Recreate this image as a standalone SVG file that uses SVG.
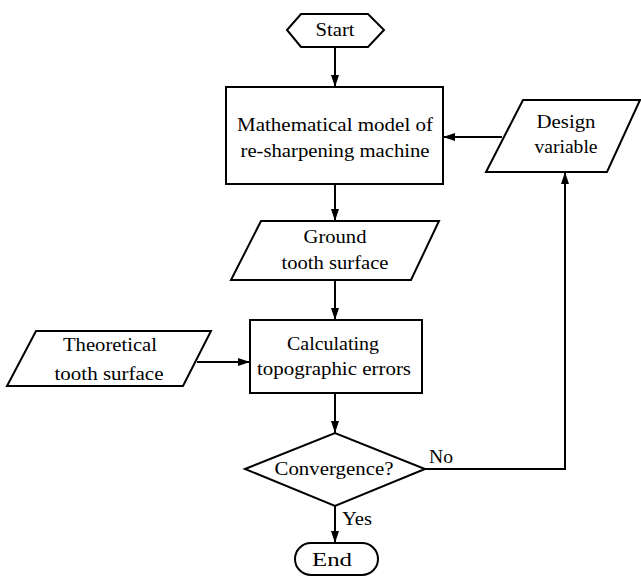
<svg xmlns="http://www.w3.org/2000/svg" width="641" height="577" viewBox="0 0 641 577">
<defs>
<marker id="arr" viewBox="0 0 12 8" refX="12" refY="4" markerWidth="12" markerHeight="8" markerUnits="userSpaceOnUse" orient="auto">
<path d="M0,0 L12,4 L0,8 Z" fill="#000"/>
</marker>
</defs>
<style>
.s{fill:#fff;stroke:#000;stroke-width:2}
.t{font-family:"Liberation Serif","Times New Roman",serif;font-size:19px;fill:#000;text-anchor:middle}
.c{fill:none;stroke:#000;stroke-width:2}
</style>
<rect width="641" height="577" fill="#fff"/>
<g id="start">
<polygon class="s" points="287,30 301,14 368,14 384,30 368,47 301,47"/>
<text class="t" x="335" y="36" textLength="39" lengthAdjust="spacingAndGlyphs">Start</text>
</g>
<g id="model">
<rect class="s" x="226" y="87" width="217" height="97"/>
<text class="t" x="335" y="131" textLength="196" lengthAdjust="spacingAndGlyphs">Mathematical model of</text>
<text class="t" x="335" y="157" textLength="189" lengthAdjust="spacingAndGlyphs">re-sharpening machine</text>
</g>
<g id="design">
<polygon class="s" points="523,100 640,100 607,172 486,172"/>
<text class="t" x="566" y="128" textLength="59" lengthAdjust="spacingAndGlyphs">Design</text>
<text class="t" x="566" y="153" textLength="63" lengthAdjust="spacingAndGlyphs">variable</text>
</g>
<g id="ground">
<polygon class="s" points="261,221 439,221 411,280 231,280"/>
<text class="t" x="335" y="243" textLength="63" lengthAdjust="spacingAndGlyphs">Ground</text>
<text class="t" x="335" y="269" textLength="107" lengthAdjust="spacingAndGlyphs">tooth surface</text>
</g>
<g id="theoretical">
<polygon class="s" points="36,331 211,331 183,386 7,386"/>
<text class="t" x="110" y="351" textLength="94" lengthAdjust="spacingAndGlyphs">Theoretical</text>
<text class="t" x="109" y="380" textLength="109" lengthAdjust="spacingAndGlyphs">tooth surface</text>
</g>
<g id="calc">
<rect class="s" x="250" y="320" width="172" height="73"/>
<text class="t" x="333" y="350" textLength="92" lengthAdjust="spacingAndGlyphs">Calculating</text>
<text class="t" x="334" y="375" textLength="154" lengthAdjust="spacingAndGlyphs">topographic errors</text>
</g>
<g id="convergence">
<polygon class="s" points="245,469 335,433 425,469 335,506"/>
<text class="t" x="334" y="475" textLength="119" lengthAdjust="spacingAndGlyphs">Convergence?</text>
</g>
<g id="end">
<rect class="s" x="295" y="543" width="83" height="32" rx="16" ry="16"/>
<text class="t" x="332" y="566" textLength="40" lengthAdjust="spacingAndGlyphs">End</text>
</g>
<g id="connectors">
<line class="c" x1="335" y1="47" x2="335" y2="87" marker-end="url(#arr)"/>
<line class="c" x1="335" y1="184" x2="335" y2="221" marker-end="url(#arr)"/>
<line class="c" x1="335" y1="280" x2="335" y2="320" marker-end="url(#arr)"/>
<line class="c" x1="335" y1="393" x2="335" y2="433" marker-end="url(#arr)"/>
<line class="c" x1="335" y1="506" x2="335" y2="543" marker-end="url(#arr)"/>
<line class="c" x1="197" y1="362" x2="250" y2="362" marker-end="url(#arr)"/>
<line class="c" x1="502" y1="137" x2="443" y2="137" marker-end="url(#arr)"/>
<polyline class="c" points="425,469 565,469 565,172" marker-end="url(#arr)"/>
<text class="t" x="441" y="463" textLength="24" lengthAdjust="spacingAndGlyphs">No</text>
<text class="t" x="357" y="525" textLength="30" lengthAdjust="spacingAndGlyphs">Yes</text>
</g>
</svg>
